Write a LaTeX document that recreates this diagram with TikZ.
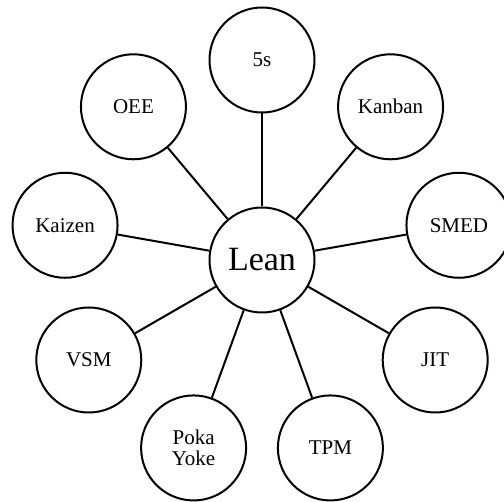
\documentclass[tikz,border=0pt]{standalone}
\usepackage{fontspec}
\setmainfont{Liberation Serif}
\begin{document}
\begin{tikzpicture}[x=1pt,y=1pt,
  bubble/.style={circle,draw,line width=2pt,minimum size=105pt,inner sep=0pt,
    align=center,font=\fontsize{21}{21}\selectfont},
  hub/.style={bubble,font=\fontsize{34}{34}\selectfont},
  spoke/.style={line width=2pt}]
  \useasboundingbox (0,0) rectangle (504,-502);
  \node[hub] (lean) at (262,-260) {Lean};
  \path (lean) ++(90:200)   node[bubble] (s5)     {5s};
  \path (lean) ++(50:200)   node[bubble] (kanban) {Kanban};
  \path (lean) ++(10:200)   node[bubble] (smed)   {SMED};
  \path (lean) ++(-30:200)  node[bubble] (jit)    {JIT};
  \path (lean) ++(-70:200)  node[bubble] (tpm)    {TPM};
  \path (lean) ++(-110:200) node[bubble] (poka)   {Poka\\Yoke};
  \path (lean) ++(-150:200) node[bubble] (vsm)    {VSM};
  \path (lean) ++(170:200)  node[bubble] (kaizen) {Kaizen};
  \path (lean) ++(130:200)  node[bubble] (oee)    {OEE};
  \foreach \n in {s5,kanban,smed,jit,tpm,poka,vsm,kaizen,oee}
    \draw[spoke] (lean) -- (\n);
\end{tikzpicture}
\end{document}
